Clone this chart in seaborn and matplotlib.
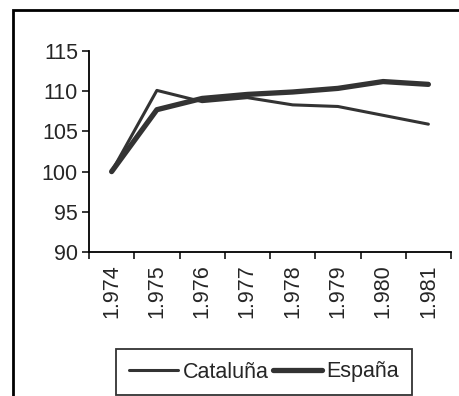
import numpy as np
import pandas as pd
import matplotlib
matplotlib.use("Agg")
import matplotlib.pyplot as plt
import seaborn as sns
from matplotlib.patches import Rectangle


years = ["1.974", "1.975", "1.976", "1.977", "1.978", "1.979", "1.980", "1.981"]
cataluna = [100, 110.1, 108.7, 109.2, 108.3, 108.1, 107.0, 105.9]
espana = [100, 107.7, 109.1, 109.6, 109.9, 110.35, 111.2, 110.85]

sns.set_style("ticks")
plt.rcParams['font.family'] = ['Liberation Sans', 'DejaVu Sans']

df = pd.DataFrame({
    "pos": np.arange(len(years)),
    "Cataluña": cataluna,
    "España": espana,
})

fig = plt.figure(figsize=(4.59, 3.96), dpi=100)
ax = fig.add_axes([89/459, 1 - 252/396, (451 - 89)/459, (252 - 51)/396])

# outer frame of the chart
fig.patches.append(Rectangle((13/459, -0.1), 1.2, 1 - 10/396 + 0.1,
                             transform=fig.transFigure, fill=False,
                             edgecolor="black", linewidth=2))

sns.lineplot(data=df, x="pos", y="Cataluña", ax=ax, color="#333333",
             linewidth=2.2, label="Cataluña", legend=False)
sns.lineplot(data=df, x="pos", y="España", ax=ax, color="#333333",
             linewidth=3.8, label="España", legend=False,
             solid_capstyle="round")

ax.set_xlim(-0.5, len(years) - 0.5)
ax.set_ylim(90, 115)
ax.set_yticks([90, 95, 100, 105, 110, 115])
ax.set_xticks(np.arange(len(years) + 1) - 0.5)
ax.set_xticklabels([])
ax.set_xticks(np.arange(len(years)), minor=True)
ax.set_xticklabels(years, minor=True, rotation=90)
ax.tick_params(axis="x", which="minor", length=0, pad=9, labelsize=15.5)
ax.tick_params(axis="x", which="major", length=5, width=1.3, direction="out")
ax.tick_params(axis="y", length=5, width=1.3, labelsize=15.5, pad=3)
ax.set_xlabel("")
ax.set_ylabel("")
sns.despine(ax=ax)
for s in ["left", "bottom"]:
    ax.spines[s].set_linewidth(1.3)
    ax.spines[s].set_color("black")

h, l = ax.get_legend_handles_labels()
leg = fig.legend(h, l, loc="center", bbox_to_anchor=(264/459, 1 - 372/396),
                 ncol=2, frameon=True, fancybox=False, fontsize=15.5,
                 handlelength=2.3, handletextpad=0.2, columnspacing=0.2,
                 borderpad=0.6, borderaxespad=0)
leg.get_frame().set_edgecolor("black")
leg.get_frame().set_linewidth(1.3)

fig.savefig("out.png", dpi=100)
